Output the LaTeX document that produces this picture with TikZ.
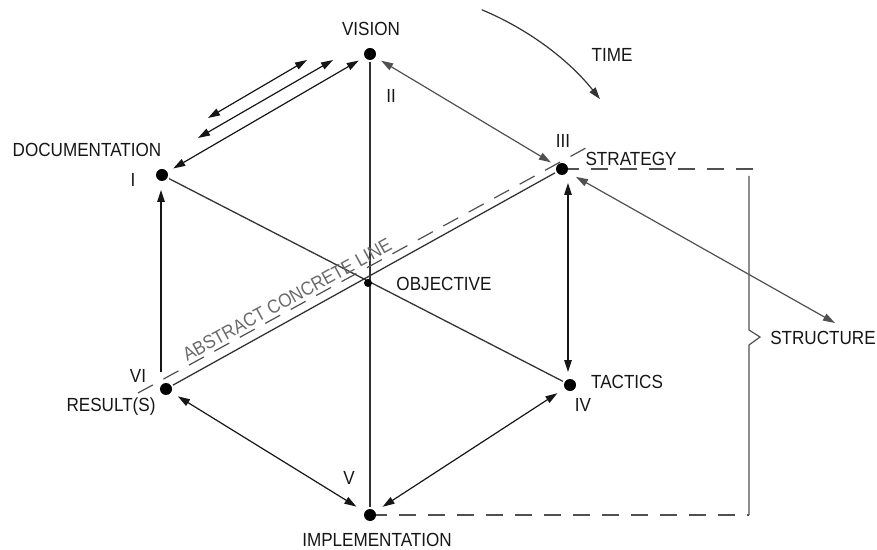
\documentclass[tikz,border=0pt]{standalone}
\usepackage{fontspec}
\setmainfont{Liberation Sans}[FakeStretch=0.9]
\usetikzlibrary{arrows.meta,calc}

\definecolor{ink}{HTML}{161616}
\definecolor{lineclr}{HTML}{333333}
\definecolor{softclr}{HTML}{505050}
\definecolor{labelgray}{HTML}{6A6A6A}

\tikzset{
  dot/.style={circle,fill=black,inner sep=0pt,minimum size=12pt},
  smalldot/.style={circle,fill=black,inner sep=0pt,minimum size=8pt},
  lbl/.style={text=ink,font=\fontsize{19}{19}\selectfont,inner sep=0pt},
  hexline/.style={draw=lineclr,line width=1.3pt,shorten <=8pt,shorten >=8pt},
  twoway/.style={draw=ink,line width=1.2pt,{Triangle[length=12pt,width=7.5pt]}-{Triangle[length=12pt,width=7.5pt]}},
  twowaysoft/.style={draw=softclr,line width=1.2pt,{Triangle[length=12pt,width=7.5pt]}-{Triangle[length=12pt,width=7.5pt]}},
  oneway/.style={draw=ink,line width=1.2pt,-{Triangle[length=12pt,width=7.5pt]}},
  dashline/.style={draw=softclr,line width=1.2pt,dash pattern=on 17pt off 12pt},
  bracket/.style={draw=softclr,line width=1.2pt}
}

\begin{document}
\begin{tikzpicture}[x=1pt,y=1pt]
  \useasboundingbox (0,0) rectangle (877,549);

  % points of the hexagon and its centre
  \coordinate (V1) at (162,374);   % documentation
  \coordinate (V2) at (370,495);   % vision
  \coordinate (V3) at (562,380);   % strategy
  \coordinate (V4) at (570,164);   % tactics
  \coordinate (V5) at (370,34);    % implementation
  \coordinate (V6) at (166,160);   % result(s)
  \coordinate (O)  at (368,266);   % objective

  % diagonals through the objective
  \draw[hexline] (V2) -- (V5);
  \draw[hexline] (V1) -- (V4);
  \draw[hexline] (V3) -- (V6);

  % abstract / concrete dividing line
  \coordinate (ac1) at (138,156);
  \coordinate (ac2) at (595,406);
  \draw[dashline] (ac1) -- (ac2)
    node[pos=0.337,sloped,above=3pt,text=labelgray,font=\fontsize{19}{19}\selectfont,inner sep=0pt] {ABSTRACT CONCRETE LINE};

  % exchanges between vision and documentation
  \draw[twoway,shorten <=13pt,shorten >=13pt] (V2) -- (V1);
  \coordinate (p1a) at (307,489);
  \coordinate (p1b) at (208,431);
  \coordinate (p2a) at (333,489);
  \coordinate (p2b) at (198,411);
  \draw[twoway] (p1a) -- (p1b);
  \draw[twoway] (p2a) -- (p2b);

  % vision -- strategy
  \draw[twowaysoft,shorten <=13pt,shorten >=13pt] (V2) -- (V3);

  % strategy -- structure
  \coordinate (st) at (835,226);
  \draw[twowaysoft,shorten <=16pt] (V3) -- (st);

  % strategy -- tactics
  \draw[twoway] ([xshift=6pt,yshift=-14pt]V3) -- ([xshift=-2pt,yshift=13pt]V4);

  % tactics -- implementation
  \draw[twoway,shorten <=15pt,shorten >=15pt] (V4) -- (V5);

  % result(s) -- implementation
  \draw[twoway,shorten <=14pt,shorten >=16pt] (V6) -- (V5);

  % result(s) -> documentation
  \draw[oneway] ([xshift=-5pt,yshift=17pt]V6) -- ([xshift=-1pt,yshift=-15pt]V1);

  % time
  \draw[draw=lineclr,line width=1.2pt,-{Triangle[length=12pt,width=7.5pt]}]
    ([shift={(67.4:296pt)}]O) arc[start angle=67.4,end angle=38.4,radius=296pt];

  % structure bracket
  \coordinate (bt) at (757,380);
  \coordinate (bb) at (749,34);
  \draw[dashline] (V3) -- (bt);
  \draw[dashline] (V5) -- (bb);
  \draw[bracket] (749,373) -- (749,219) -- (760,212) -- (749,204) -- (749,34);

  % dots
  \node[dot] (n1) at (V1) {};
  \node[dot] (n2) at (V2) {};
  \node[dot] (n3) at (V3) {};
  \node[dot] (n4) at (V4) {};
  \node[dot] (n5) at (V5) {};
  \node[dot] (n6) at (V6) {};
  \node[smalldot] (nO) at (O) {};

  % labels
  \node[lbl] (tVision) at (371,520.5) {VISION};
  \node[lbl] (tII) at (391,453) {II};
  \node[lbl] (tTime) at (612,494) {TIME};
  \node[lbl] (tIII) at (563,408) {III};
  \node[lbl] (tStrategy) at (631,390) {STRATEGY};
  \node[lbl] (tDoc) at (87,399) {DOCUMENTATION};
  \node[lbl] (tI) at (133,369) {I};
  \node[lbl] (tObj) at (444,265) {OBJECTIVE};
  \node[lbl] (tStruct) at (823,211) {STRUCTURE};
  \node[lbl] (tTactics) at (627,167) {TACTICS};
  \node[lbl] (tIV) at (583,144) {IV};
  \node[lbl] (tVI) at (138,173) {VI};
  \node[lbl] (tRes) at (111,142) {RESULT(S)};
  \node[lbl] (tV) at (349,71) {V};
  \node[lbl] (tImpl) at (377,9) {IMPLEMENTATION};
\end{tikzpicture}
\end{document}
